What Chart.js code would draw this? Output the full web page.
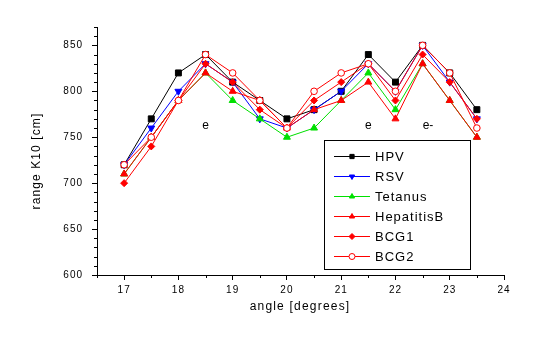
<!DOCTYPE html>
<html>
<head>
<meta charset="utf-8">
<script src="https://cdn.jsdelivr.net/npm/chart.js@4.4.1/dist/chart.umd.min.js"></script>
<style>
body { margin: 0; background: #fff; }
#wrap { width: 540px; height: 351px; }
</style>
</head>
<body>
<div id="wrap"><canvas id="rangeChart" width="540" height="351"></canvas></div>
<script>
const angles = [17, 17.5, 18, 18.5, 19, 19.5, 20, 20.5, 21, 21.5, 22, 22.5, 23, 23.5];

const hpv     = [720, 770, 820, 840, 810, 790, 770, 780, 800, 840, 810, 850, 820, 780];
const rsv     = [720, 760, 800, 830, 810, 770, 760, 780, 800, 830, 800, 850, 810, 770];
const tetanus = [710, 750, 790, 820, 790, 770, 750, 760, 790, 820, 780, 830, 790, 750];
const hepB    = [710, 750, 790, 820, 800, 790, 760, 780, 790, 810, 770, 830, 790, 750];
const bcg1    = [700, 740, 790, 830, 810, 780, 760, 790, 810, 830, 790, 840, 810, 770];
const bcg2    = [720, 750, 790, 840, 820, 790, 760, 800, 820, 830, 800, 850, 820, 760];

const xTicks = [17, 18, 19, 20, 21, 22, 23, 24];
const yTicks = [600, 650, 700, 750, 800, 850];

// little markers written on the plot
const noteLabels = ["e", "e", "e-"];
const noteAngles = [18.5, 21.5, 22.6];
const noteLevel = 763;

const FONT = "Liberation Sans";

function series(label, data, color, style, fill, size, rot, order) {
	return {
		label: label,
		data: data.map((v, i) => ({ x: angles[i], y: v })),
		borderColor: color,
		backgroundColor: color,
		borderWidth: 1,
		pointStyle: style,
		pointRadius: size,
		pointRotation: rot,
		pointBackgroundColor: fill,
		pointBorderColor: color,
		pointBorderWidth: 1,
		tension: 0,
		fill: false,
		order: order,
	};
}

const decor = {
	id: "decor",
	beforeDraw(chart) {
		const ctx = chart.ctx;
		ctx.save();
		ctx.fillStyle = "#fff";
		ctx.fillRect(0, 0, chart.width, chart.height);
		ctx.restore();
		ctx.letterSpacing = "1px";
	},
	afterDraw(chart) {
		const ctx = chart.ctx;
		const xs = chart.scales.x;
		const ys = chart.scales.y;
		ctx.save();
		ctx.strokeStyle = "#000";
		ctx.lineWidth = 1;

		// minor ticks
		ctx.beginPath();
		for (let v = 16.5; v < 24; v += 1) {
			const px = Math.round(xs.getPixelForValue(v)) + 0.5;
			ctx.moveTo(px, xs.top);
			ctx.lineTo(px, xs.top + 3);
		}
		for (let v = 610; v <= 870; v += 10) {
			if (v % 50 === 0) continue;
			const py = Math.round(ys.getPixelForValue(v)) + 0.5;
			ctx.moveTo(ys.right, py);
			ctx.lineTo(ys.right - 3, py);
		}
		ctx.stroke();

		// axis titles
		ctx.fillStyle = "#000";
		ctx.font = "12px " + FONT;
		ctx.letterSpacing = "1.2px";
		ctx.textAlign = "center";
		ctx.textBaseline = "middle";
		ctx.fillText("angle [degrees]", 300, 307);
		ctx.save();
		ctx.translate(37, 161);
		ctx.rotate(-Math.PI / 2);
		ctx.letterSpacing = "1.1px";
		ctx.fillText("range K10 [cm]", 0, 0);
		ctx.restore();

		// notes
		ctx.letterSpacing = "0px";
		ctx.font = "12px " + FONT;
		noteLabels.forEach((t, i) => {
			ctx.fillText(t, xs.getPixelForValue(noteAngles[i]), ys.getPixelForValue(noteLevel));
		});

		// legend box
		ctx.strokeRect(324.5, 140.5, 146, 129);
		ctx.font = "13px " + FONT;
		ctx.letterSpacing = "1px";
		ctx.textAlign = "left";
		chart.data.datasets.forEach((ds, i) => {
			const y = 156 + i * 20;
			ctx.strokeStyle = ds.borderColor;
			ctx.beginPath();
			ctx.moveTo(334, y + 0.5);
			ctx.lineTo(370, y + 0.5);
			ctx.stroke();
			ctx.fillStyle = ds.pointBackgroundColor;
			Chart.helpers.drawPoint(ctx, {
				pointStyle: ds.pointStyle,
				rotation: ds.pointRotation,
				radius: 3,
				borderWidth: 1,
			}, 352, y + 0.5);
			ctx.fillStyle = "#000";
			ctx.fillText(ds.label, 375, y + 1);
		});
		ctx.restore();
	},
};

new Chart("rangeChart", {
	type: "line",
	data: {
		datasets: [
			series("HPV", hpv, "#000000", "rect", "#000000", 4.2, 0, 5),
			series("RSV", rsv, "#0000ff", "triangle", "#0000ff", 4, 180, 4),
			series("Tetanus", tetanus, "#00e000", "triangle", "#00e000", 4, 0, 3),
			series("HepatitisB", hepB, "#ff0000", "triangle", "#ff0000", 4, 0, 2),
			series("BCG1", bcg1, "#ff0000", "rectRot", "#ff0000", 3.5, 0, 1),
			series("BCG2", bcg2, "#ff0000", "circle", "#ffffff", 3.3, 0, 0),
		],
	},
	options: {
		responsive: false,
		animation: false,
		devicePixelRatio: 1,
		layout: { padding: { top: 27, right: 36, left: 0, bottom: 0 } },
		plugins: {
			legend: { display: false },
			tooltip: { enabled: false },
		},
		scales: {
			x: {
				type: "linear",
				min: 16.5,
				max: 24,
				afterBuildTicks: (s) => { s.ticks = xTicks.map((v) => ({ value: v })); },
				afterFit: (s) => { s.height = 76; },
				grid: { display: true, drawOnChartArea: false, drawTicks: true, tickLength: 5, color: "#000", tickColor: "#000" },
				border: { display: true, color: "#000", width: 1 },
				ticks: { color: "#000", font: { family: FONT, size: 10 }, padding: 4, maxRotation: 0, autoSkip: false },
			},
			y: {
				min: 600,
				max: 870,
				afterBuildTicks: (s) => { s.ticks = yTicks.map((v) => ({ value: v })); },
				afterFit: (s) => { s.width = 97; },
				grid: { display: true, drawOnChartArea: false, drawTicks: true, tickLength: 5, color: "#000", tickColor: "#000" },
				border: { display: true, color: "#000", width: 1 },
				ticks: { color: "#000", font: { family: FONT, size: 10 }, padding: 9, autoSkip: false },
			},
		},
	},
	plugins: [decor],
});
</script>
</body>
</html>
